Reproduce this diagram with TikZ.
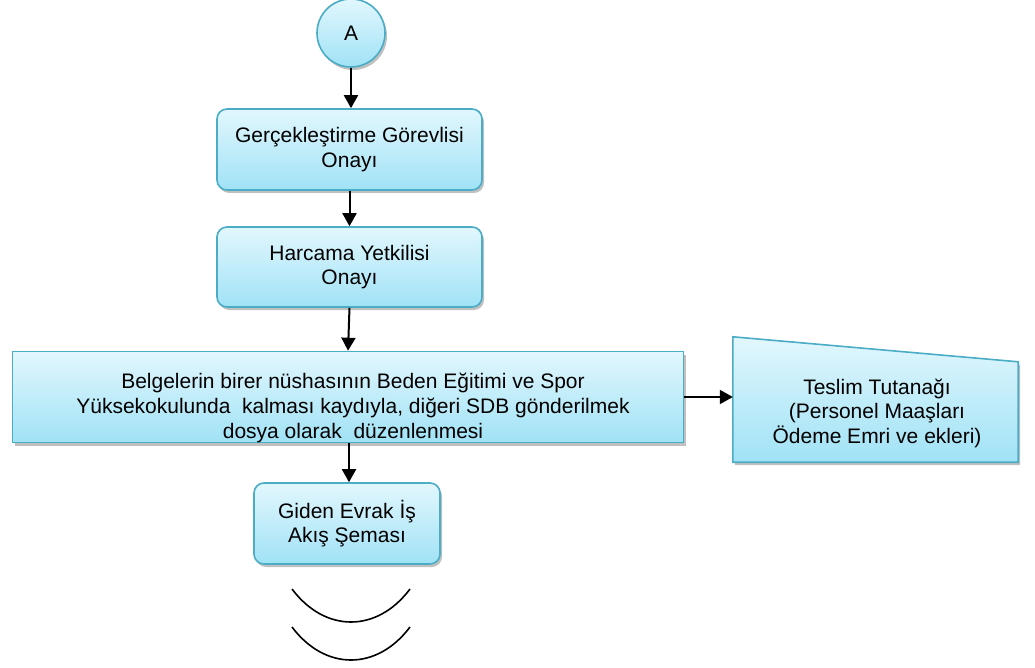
\documentclass[tikz,border=0pt]{standalone}
\usepackage{fontspec}
\setmainfont{Liberation Sans}
\usetikzlibrary{arrows.meta,shadows}
\definecolor{bord}{RGB}{75,172,198}
\definecolor{ftop}{RGB}{226,247,253}
\definecolor{fbot}{RGB}{160,226,246}
\begin{document}
\begin{tikzpicture}[x=1pt,y=-1pt,
  txt/.style={align=center,font=\fontsize{21}{24.5}\selectfont,inner sep=0pt},
  shade/.style={draw=bord,line width=1.6pt,top color=ftop,bottom color=fbot,
    drop shadow={shadow xshift=2pt,shadow yshift=-3pt,fill=black!45,opacity=0.55}},
  proc/.style={shade,txt,rounded corners=10pt},
  circ/.style={shade,txt,circle,minimum size=68pt},
  bigbox/.style={shade,rectangle,minimum width=671pt,minimum height=91pt,inner sep=0pt},
  arr/.style={-{Triangle[length=13pt,width=14pt]},line width=2pt,black},
  arc/.style={line width=1.6pt,black}]
\useasboundingbox (0,0) rectangle (1035,668);
\node[circ] (A) at (351,33) {A};
\node[proc,minimum width=265pt,minimum height=81pt] (g1) at (349.5,149.5) {Gerçekleştirme Görevlisi\\Onayı};
\node[proc,minimum width=265pt,minimum height=80pt] (g2) at (349.5,267) {Harcama Yetkilisi\\Onayı};
\node[bigbox] (big) at (348,397) {};
\node[txt,font=\fontsize{21}{25}\selectfont] (bigtext) at (353,408) {Belgelerin birer nüshasının Beden Eğitimi ve Spor\\Yüksekokulunda\ \ kalması kaydıyla, diğeri SDB gönderilmek\\dosya olarak\ \ düzenlenmesi};
\node[minimum width=285pt,minimum height=125pt,inner sep=0pt] (teslim) at (875.5,399.5) {};
\path[shade] (teslim.south west) -- (teslim.north west) -- ([yshift=-25pt]teslim.north east) -- (teslim.south east) -- cycle;
\node[txt] (tesltext) at (877,413) {Teslim Tutanağı\\(Personel Maaşları\\Ödeme Emri ve ekleri)};
\node[proc,minimum width=186pt,minimum height=81pt] (giden) at (347,523.5) {Giden Evrak İş\\Akış Şeması};
\draw[arr] (A.south) -- (A.south |- g1.north);
\draw[arr] (g1.south) -- (g2.north);
\draw[arr] (g2.south) -- (big.north);
\draw[arr] (big.east) -- (big.east -| teslim.west);
\draw[arr] ([xshift=1pt]big.south) -- ([xshift=1pt]big.south |- giden.north);
\draw[arc] (292,589) .. controls (325,633) and (377,633) .. (410,589);
\draw[arc] (292,627) .. controls (325,671) and (377,671) .. (410,627);
\end{tikzpicture}
\end{document}
